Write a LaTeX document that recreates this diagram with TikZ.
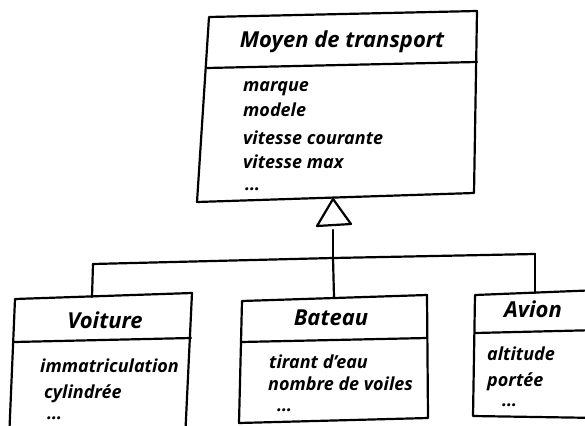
\documentclass[tikz,border=0pt]{standalone}
\usepackage{fontspec}
\setmainfont{Open Sans}
\begin{document}
\begin{tikzpicture}[x=1pt,y=-1pt,
  pen/.style={line width=2.2pt, line join=round, line cap=round},
  classtitle/.style={font=\fontsize{22}{26}\selectfont\bfseries\itshape, anchor=base, inner sep=0pt},
  attr/.style={font=\fontsize{18}{22}\selectfont\bfseries\itshape, anchor=base west, inner sep=0pt},
]
\useasboundingbox (0,0) rectangle (585,425);
\clip (0,0) rectangle (585,425);

% ---- superclass: Moyen de transport ----
\coordinate (m-tl) at (209,17);
\coordinate (m-tr) at (477,11);
\coordinate (m-br) at (474,193);
\coordinate (m-bl) at (197,202);
\coordinate (m-sl) at (207,68);
\coordinate (m-sr) at (477,62);
\draw[pen] (m-tl) -- (m-tr) -- (m-br) -- (m-bl) -- cycle;
\draw[pen] (m-sl) -- (m-sr);
\node[classtitle] (moyen) at (342,48) {Moyen de transport};
\node[attr] (m-a1) at (243,92) {marque};
\node[attr] (m-a2) at (243,116) {modele};
\node[attr] (m-a3) at (243,144) {vitesse courante};
\node[attr] (m-a4) at (243,168) {vitesse max};
\node[attr] (m-a5) at (245,190) {\dots};

% ---- generalisation arrow ----
\coordinate (tri-apex) at (333,199);
\coordinate (tri-l) at (317,226);
\coordinate (tri-r) at (351,224);
\coordinate (stem-top) at (333,230);
\coordinate (bar-mid) at (333,258);
\coordinate (bar-left) at (93,264);
\coordinate (bar-right) at (535,254);
\draw[pen] (tri-apex) -- (tri-r) -- (tri-l) -- cycle;
\draw[pen] (stem-top) -- (bar-mid);
\draw[pen] (bar-left) -- (bar-mid) -- (bar-right);

% ---- subclass: Voiture ----
\coordinate (v-tl) at (15,299);
\coordinate (v-tr) at (192,293);
\coordinate (v-br) at (185,440);
\coordinate (v-bl) at (9,440);
\coordinate (v-sl) at (14,342);
\coordinate (v-sr) at (191,338);
\coordinate (v-top) at (92,297);
\draw[pen] (v-bl) -- (v-tl) -- (v-tr) -- (v-br);
\draw[pen] (v-sl) -- (v-sr);
\draw[pen] (bar-left) -- (v-top);
\node[classtitle] (voiture) at (105,328) {Voiture};
\node[attr] (v-a1) at (40,372) {immatriculation};
\node[attr] (v-a2) at (44,398) {cylindrée};
\node[attr] (v-a3) at (47,419) {\dots};

% ---- subclass: Bateau ----
\coordinate (b-tl) at (242,301);
\coordinate (b-tr) at (427,295);
\coordinate (b-br) at (428,418);
\coordinate (b-bl) at (239,423);
\coordinate (b-sl) at (241,342);
\coordinate (b-sr) at (427,338);
\coordinate (b-top) at (334,297);
\draw[pen] (b-tl) -- (b-tr) -- (b-br) -- (b-bl) -- cycle;
\draw[pen] (b-sl) -- (b-sr);
\draw[pen] (bar-mid) -- (b-top);
\node[classtitle] (bateau) at (331,325) {Bateau};
\node[attr] (b-a1) at (269,368) {tirant d'eau};
\node[attr] (b-a2) at (268,390) {nombre de voiles};
\node[attr] (b-a3) at (277,411) {\dots};

% ---- subclass: Avion ----
\coordinate (a-tl) at (475,295);
\coordinate (a-tr) at (600,290);
\coordinate (a-br) at (600,418);
\coordinate (a-bl) at (473,416);
\coordinate (a-sl) at (475,333);
\coordinate (a-sr) at (600,330);
\coordinate (a-top) at (535,293);
\draw[pen] (a-tr) -- (a-tl) -- (a-bl) -- (a-br);
\draw[pen] (a-sl) -- (a-sr);
\draw[pen] (bar-right) -- (a-top);
\node[classtitle] (avion) at (533,317) {Avion};
\node[attr] (a-a1) at (487,360) {altitude};
\node[attr] (a-a2) at (487,386) {portée};
\node[attr] (a-a3) at (502,406) {\dots};
\end{tikzpicture}
\end{document}
